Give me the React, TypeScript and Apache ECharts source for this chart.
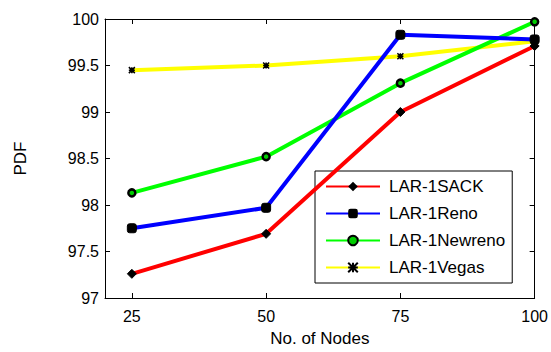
import React, { useEffect, useRef } from "react";
import * as echarts from "echarts";

const nodes = [25, 50, 75, 100];
const sack = [97.26, 97.69, 99.0, 99.71];
const reno = [97.75, 97.97, 99.83, 99.78];
const newreno = [98.13, 98.52, 99.31, 99.97];
const vegas = [99.45, 99.5, 99.6, 99.76];
const yTicks = [97, 97.5, 98, 98.5, 99, 99.5, 100];
const seriesNames = ["LAR-1SACK", "LAR-1Reno", "LAR-1Newreno", "LAR-1Vegas"];

const FONT = "Liberation Sans";

export default function App() {
  const ref = useRef<HTMLDivElement>(null);
  useEffect(() => {
    if (!ref.current) return;
    const chart = echarts.init(ref.current, undefined, { renderer: "svg" });
    const toPts = (arr: number[]) => nodes.map((n, i) => [n, arr[i]]);
    const lineW = 4;
    const asterisk = "path://M0,0L10,10M10,0L0,10M5,0L5,10M0,5L10,5";
    chart.setOption({
      animation: false,
      backgroundColor: "#ffffff",
      textStyle: { fontFamily: FONT },
      grid: { left: 105, top: 19, right: 15, bottom: 50 },
      xAxis: [
        {
          type: "value",
          min: 20,
          max: 100,
          name: "No. of Nodes",
          nameLocation: "middle",
          nameGap: 32,
          nameTextStyle: { fontFamily: FONT, fontSize: 17, color: "#000" },
          axisLine: { show: true, lineStyle: { color: "#000", width: 1 } },
          axisTick: { show: true, inside: true, length: 5, customValues: nodes, lineStyle: { color: "#000" } },
          axisLabel: { customValues: nodes, fontFamily: FONT, fontSize: 16, color: "#000", margin: 10 },
          splitLine: { show: false },
        },
        {
          type: "value",
          min: 20,
          max: 100,
          position: "top",
          axisLine: { show: true, onZero: false, lineStyle: { color: "#000", width: 1 } },
          axisTick: { show: true, inside: true, length: 5, customValues: nodes, lineStyle: { color: "#000" } },
          axisLabel: { show: false },
          splitLine: { show: false },
        },
      ],
      yAxis: [
        {
          type: "value",
          min: 97,
          max: 100,
          name: "PDF",
          nameLocation: "middle",
          nameGap: 76,
          nameRotate: 90,
          nameTextStyle: { fontFamily: FONT, fontSize: 17, color: "#000" },
          axisLine: { show: true, lineStyle: { color: "#000", width: 1 } },
          axisTick: { show: true, inside: true, length: 5, customValues: yTicks, lineStyle: { color: "#000" } },
          axisLabel: { customValues: yTicks, fontFamily: FONT, fontSize: 16, color: "#000", margin: 6 },
          splitLine: { show: false },
        },
        {
          type: "value",
          min: 97,
          max: 100,
          position: "right",
          axisLine: { show: true, onZero: false, lineStyle: { color: "#000", width: 1 } },
          axisTick: { show: true, inside: true, length: 5, customValues: yTicks, lineStyle: { color: "#000" } },
          axisLabel: { show: false },
          splitLine: { show: false },
        },
      ],
      legend: {
        orient: "vertical",
        left: 315,
        top: 171,
        width: 199,
        backgroundColor: "#fff",
        borderColor: "#000",
        borderWidth: 1,
        borderRadius: 0,
        padding: [7, 7, 7, 10],
        itemWidth: 54,
        itemHeight: 12,
        itemGap: 10,
        textStyle: { fontFamily: FONT, fontSize: 17, color: "#000", padding: [0, 0, 0, 4] },
        data: seriesNames,
      },
      series: [
        {
          name: seriesNames[0],
          type: "line",
          data: toPts(sack),
          lineStyle: { color: "#ff0000", width: lineW },
          itemStyle: { color: "#000", borderColor: "#000" },
          symbol: "diamond",
          symbolSize: 9,
          z: 4,
        },
        {
          name: seriesNames[1],
          type: "line",
          data: toPts(reno),
          lineStyle: { color: "#0000ff", width: lineW },
          itemStyle: { color: "#000", borderColor: "#000" },
          symbol: "roundRect",
          symbolSize: 9,
          z: 3,
        },
        {
          name: seriesNames[2],
          type: "line",
          data: toPts(newreno),
          lineStyle: { color: "#00ff00", width: lineW },
          itemStyle: { color: "#00cc00", borderColor: "#000", borderWidth: 2.5 },
          symbol: "circle",
          symbolSize: 7,
          z: 2,
        },
        {
          name: seriesNames[3],
          type: "line",
          data: toPts(vegas),
          lineStyle: { color: "#ffff00", width: lineW },
          itemStyle: { color: "none", borderColor: "#000", borderWidth: 1.5 },
          symbol: asterisk,
          symbolSize: 6,
          z: 1,
        },
      ],
    });
    return () => chart.dispose();
  }, []);
  return <div ref={ref} style={{ width: 551, height: 352, position: "absolute", left: 0, top: 0 }} />;
}
